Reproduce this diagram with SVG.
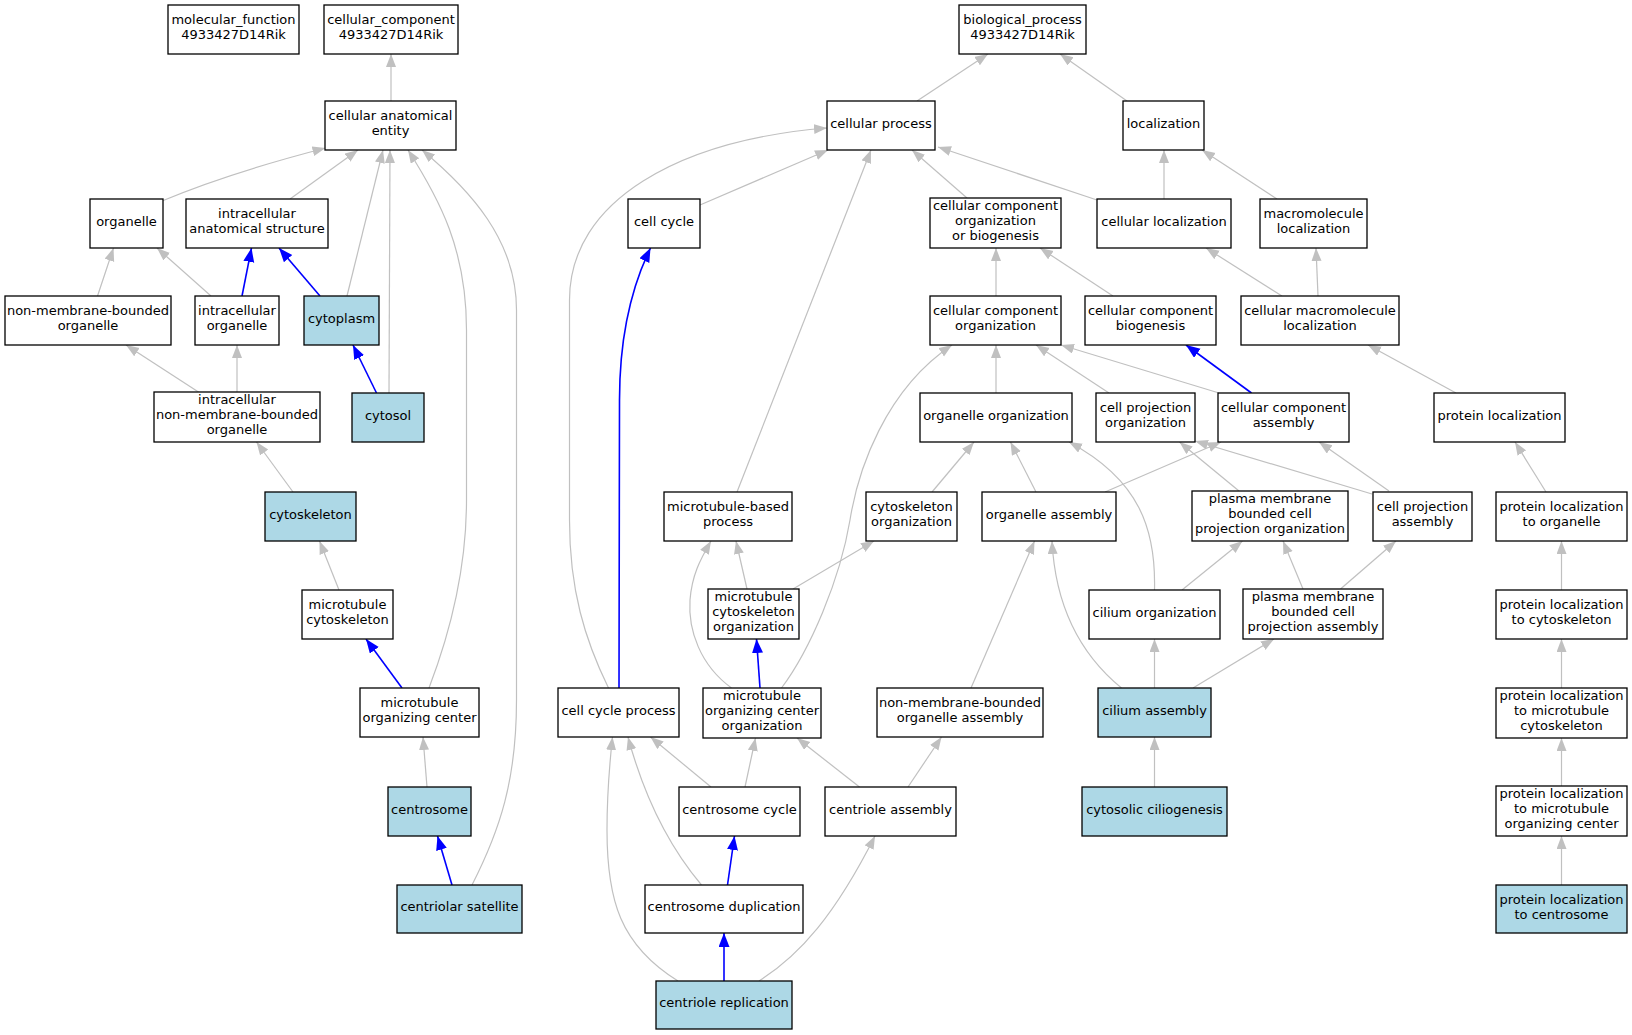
<svg xmlns="http://www.w3.org/2000/svg" width="1632" height="1035" viewBox="0 0 1632 1035">
<style>
.n rect{fill:#fff;stroke:#000;stroke-width:1.3}
.n.h rect{fill:#add8e6}
.n text{font-family:"DejaVu Sans","Liberation Sans",sans-serif;font-size:13px;text-anchor:middle;fill:#000;transform:translate(0px,-1.5px)}
#edges path{fill:none;stroke:#c0c0c0;stroke-width:1.2}
#edges path.b{stroke:#0000ff;stroke-width:1.6}
</style>
<defs>
<marker id="ag" markerUnits="userSpaceOnUse" markerWidth="14" markerHeight="11" viewBox="0 0 14 11" refX="13" refY="5" orient="auto"><path d="M0,0 L13,5 L0,10 z" fill="#c0c0c0"/></marker>
<marker id="ab" markerUnits="userSpaceOnUse" markerWidth="15" markerHeight="12" viewBox="0 0 15 12" refX="14" refY="5.5" orient="auto"><path d="M0,0 L14,5.5 L0,11 z" fill="#0000ff"/></marker>
</defs>
<rect width="1632" height="1035" fill="#fff"/>
<g id="edges">
<g marker-end="url(#ag)">
<path d="M391,101 L391,54"/>
<path d="M162,201 C200,185 260,165 325.5,148"/>
<path d="M290,199 L358,150"/>
<path d="M347,296 L383,150"/>
<path d="M389,393 L390,150"/>
<path d="M429,688 C455,620 466.5,560 466.5,500 L466.5,330 C466.5,250 440,200 408,150"/>
<path d="M472,885 C500,830 516.5,780 516.5,700 L516.5,310 C516.5,240 470,190 422,150"/>
<path d="M97.5,296 L113.5,248"/>
<path d="M211,296 L157,248"/>
<path d="M200,393 L126,345"/>
<path d="M237,393 L237,345"/>
<path d="M293,492 L256.5,442"/>
<path d="M339,590 L319.5,541"/>
<path d="M427,787 L423,737"/>
<path d="M917,101 L988,54"/>
<path d="M1127,101 L1060,54"/>
<path d="M700,205 L828,150"/>
<path d="M737,492 L871,150"/>
<path d="M608.5,688 C585,640 569.5,590 569.5,520 L569.5,300 C569.5,200 680,140 827,128"/>
<path d="M967,198 L912,150"/>
<path d="M1097,200 L938,147"/>
<path d="M1164,199 L1164,150"/>
<path d="M1277,199 L1202,150"/>
<path d="M996,296 L996,248"/>
<path d="M1113,296 L1040,248"/>
<path d="M1282,296 L1206,248"/>
<path d="M1318,296 L1316,248"/>
<path d="M1219,393 L1061,345"/>
<path d="M1109,393 L1036,345"/>
<path d="M996,393 L996,345"/>
<path d="M1456,393 L1368,345"/>
<path d="M781.5,688 C810,650 840,580 850,520 C858,470 885,390 952,345"/>
<path d="M932,492 L974,442"/>
<path d="M1036,492 L1010.5,442"/>
<path d="M1105,492 L1221,442"/>
<path d="M1154.5,590 C1156,530 1140,480 1069,442"/>
<path d="M1239,491 L1179.5,442"/>
<path d="M1372,494 L1195,441"/>
<path d="M1389,491 L1319,442"/>
<path d="M1546,492 L1515,442"/>
<path d="M747,589 L736,541"/>
<path d="M793,589 L874,541"/>
<path d="M1182,590 L1242.5,541"/>
<path d="M1303,589 L1283,541"/>
<path d="M1340.5,589 L1396,541"/>
<path d="M1561.5,590 L1561.5,541"/>
<path d="M731.5,688 C700,665 688,630 690,600 C692,575 700,560 711,541"/>
<path d="M971,688 L1034.5,541"/>
<path d="M1121.5,688 C1075,650 1055,600 1052,541"/>
<path d="M1154.5,688 L1154.5,639"/>
<path d="M1193,688 L1274,639"/>
<path d="M1561.5,688 L1561.5,639"/>
<path d="M711,787 L650.5,737"/>
<path d="M745,787 L755.5,738"/>
<path d="M859.5,787 L797,738"/>
<path d="M908,787 L941.5,737"/>
<path d="M1154.5,787 L1154.5,737"/>
<path d="M1561.5,786 L1561.5,738"/>
<path d="M701.5,885 C672,850 645,800 628,737"/>
<path d="M1561.5,885 L1561.5,836"/>
<path d="M678,981 C620,945 607,900 607,830 C607,790 610,760 612.5,737"/>
<path d="M759,981 C800,955 835,915 875,836"/>
</g>
<g marker-end="url(#ab)">
<path class="b" d="M242,296 L251.5,248"/>
<path class="b" d="M320,296 L279,248"/>
<path class="b" d="M376.5,393 L353,345"/>
<path class="b" d="M402,688 L366,639"/>
<path class="b" d="M452,885 L437.5,836"/>
<path class="b" d="M1251.5,393 L1186,345"/>
<path class="b" d="M760,688 L756.5,639"/>
<path class="b" d="M619,688 L619.5,400 C619.5,340 630,290 650.5,248"/>
<path class="b" d="M727.5,885 L734.5,836"/>
<path class="b" d="M724,981 L724,933"/>
</g>
</g>
<g id="n_mf" class="n"><rect x="168" y="5" width="131" height="49"/><text x="233.5" y="25.5">molecular_function</text><text x="233.5" y="40.5">4933427D14Rik</text></g>
<g id="n_cc" class="n"><rect x="324" y="5" width="134" height="49"/><text x="391" y="25.5">cellular_component</text><text x="391" y="40.5">4933427D14Rik</text></g>
<g id="n_bp" class="n"><rect x="959" y="5" width="127" height="49"/><text x="1022.5" y="25.5">biological_process</text><text x="1022.5" y="40.5">4933427D14Rik</text></g>
<g id="n_cae" class="n"><rect x="325" y="101" width="131" height="49"/><text x="390.5" y="121.5">cellular anatomical</text><text x="390.5" y="136.5">entity</text></g>
<g id="n_cp" class="n"><rect x="827" y="101" width="108" height="49"/><text x="881" y="129">cellular process</text></g>
<g id="n_loc" class="n"><rect x="1123" y="101" width="81" height="49"/><text x="1163.5" y="129">localization</text></g>
<g id="n_org" class="n"><rect x="90" y="199" width="73" height="49"/><text x="126.5" y="227">organelle</text></g>
<g id="n_ias" class="n"><rect x="186" y="199" width="142" height="49"/><text x="257" y="219.5">intracellular</text><text x="257" y="234.5">anatomical structure</text></g>
<g id="n_ccy" class="n"><rect x="628" y="199" width="72" height="49"/><text x="664" y="227">cell cycle</text></g>
<g id="n_ccoob" class="n"><rect x="930" y="198" width="131" height="50"/><text x="995.5" y="211.5">cellular component</text><text x="995.5" y="226.5">organization</text><text x="995.5" y="241.5">or biogenesis</text></g>
<g id="n_cl" class="n"><rect x="1097" y="199" width="134" height="49"/><text x="1164" y="227">cellular localization</text></g>
<g id="n_ml" class="n"><rect x="1260" y="199" width="107" height="49"/><text x="1313.5" y="219.5">macromolecule</text><text x="1313.5" y="234.5">localization</text></g>
<g id="n_nmbo" class="n"><rect x="5" y="296" width="166" height="49"/><text x="88" y="316.5">non-membrane-bounded</text><text x="88" y="331.5">organelle</text></g>
<g id="n_io" class="n"><rect x="195" y="296" width="84" height="49"/><text x="237" y="316.5">intracellular</text><text x="237" y="331.5">organelle</text></g>
<g id="n_cytoplasm" class="n h"><rect x="304" y="296" width="75" height="49"/><text x="341.5" y="324">cytoplasm</text></g>
<g id="n_cco" class="n"><rect x="930" y="296" width="131" height="49"/><text x="995.5" y="316.5">cellular component</text><text x="995.5" y="331.5">organization</text></g>
<g id="n_ccb" class="n"><rect x="1085" y="296" width="131" height="49"/><text x="1150.5" y="316.5">cellular component</text><text x="1150.5" y="331.5">biogenesis</text></g>
<g id="n_cml" class="n"><rect x="1241" y="296" width="158" height="49"/><text x="1320" y="316.5">cellular macromolecule</text><text x="1320" y="331.5">localization</text></g>
<g id="n_inmbo" class="n"><rect x="154" y="392" width="166" height="50"/><text x="237" y="405.5">intracellular</text><text x="237" y="420.5">non-membrane-bounded</text><text x="237" y="435.5">organelle</text></g>
<g id="n_cytosol" class="n h"><rect x="352" y="393" width="72" height="49"/><text x="388" y="421">cytosol</text></g>
<g id="n_oo" class="n"><rect x="920" y="393" width="152" height="49"/><text x="996" y="421">organelle organization</text></g>
<g id="n_cpo" class="n"><rect x="1096" y="393" width="99" height="49"/><text x="1145.5" y="413.5">cell projection</text><text x="1145.5" y="428.5">organization</text></g>
<g id="n_cca" class="n"><rect x="1218" y="393" width="131" height="49"/><text x="1283.5" y="413.5">cellular component</text><text x="1283.5" y="428.5">assembly</text></g>
<g id="n_pl" class="n"><rect x="1434" y="393" width="131" height="49"/><text x="1499.5" y="421">protein localization</text></g>
<g id="n_cytoskeleton" class="n h"><rect x="265" y="492" width="91" height="49"/><text x="310.5" y="520">cytoskeleton</text></g>
<g id="n_mbp" class="n"><rect x="664" y="492" width="128" height="49"/><text x="728" y="512.5">microtubule-based</text><text x="728" y="527.5">process</text></g>
<g id="n_cso" class="n"><rect x="866" y="492" width="91" height="49"/><text x="911.5" y="512.5">cytoskeleton</text><text x="911.5" y="527.5">organization</text></g>
<g id="n_oa" class="n"><rect x="982" y="492" width="134" height="49"/><text x="1049" y="520">organelle assembly</text></g>
<g id="n_pmbcpo" class="n"><rect x="1192" y="491" width="156" height="50"/><text x="1270" y="504.5">plasma membrane</text><text x="1270" y="519.5">bounded cell</text><text x="1270" y="534.5">projection organization</text></g>
<g id="n_cpa" class="n"><rect x="1373" y="492" width="99" height="49"/><text x="1422.5" y="512.5">cell projection</text><text x="1422.5" y="527.5">assembly</text></g>
<g id="n_plo" class="n"><rect x="1496" y="492" width="131" height="49"/><text x="1561.5" y="512.5">protein localization</text><text x="1561.5" y="527.5">to organelle</text></g>
<g id="n_mc" class="n"><rect x="302" y="590" width="91" height="49"/><text x="347.5" y="610.5">microtubule</text><text x="347.5" y="625.5">cytoskeleton</text></g>
<g id="n_mco" class="n"><rect x="708" y="589" width="91" height="50"/><text x="753.5" y="602.5">microtubule</text><text x="753.5" y="617.5">cytoskeleton</text><text x="753.5" y="632.5">organization</text></g>
<g id="n_cio" class="n"><rect x="1089" y="590" width="131" height="49"/><text x="1154.5" y="618">cilium organization</text></g>
<g id="n_pmbcpa" class="n"><rect x="1243" y="589" width="140" height="50"/><text x="1313" y="602.5">plasma membrane</text><text x="1313" y="617.5">bounded cell</text><text x="1313" y="632.5">projection assembly</text></g>
<g id="n_plc" class="n"><rect x="1496" y="590" width="131" height="49"/><text x="1561.5" y="610.5">protein localization</text><text x="1561.5" y="625.5">to cytoskeleton</text></g>
<g id="n_mtoc" class="n"><rect x="360" y="688" width="119" height="49"/><text x="419.5" y="708.5">microtubule</text><text x="419.5" y="723.5">organizing center</text></g>
<g id="n_ccp" class="n"><rect x="558" y="688" width="121" height="49"/><text x="618.5" y="716">cell cycle process</text></g>
<g id="n_mtoco" class="n"><rect x="703" y="688" width="118" height="50"/><text x="762" y="701.5">microtubule</text><text x="762" y="716.5">organizing center</text><text x="762" y="731.5">organization</text></g>
<g id="n_nmboa" class="n"><rect x="877" y="688" width="166" height="49"/><text x="960" y="708.5">non-membrane-bounded</text><text x="960" y="723.5">organelle assembly</text></g>
<g id="n_cia" class="n h"><rect x="1098" y="688" width="113" height="49"/><text x="1154.5" y="716">cilium assembly</text></g>
<g id="n_plmc" class="n"><rect x="1496" y="688" width="131" height="50"/><text x="1561.5" y="701.5">protein localization</text><text x="1561.5" y="716.5">to microtubule</text><text x="1561.5" y="731.5">cytoskeleton</text></g>
<g id="n_centrosome" class="n h"><rect x="388" y="787" width="83" height="49"/><text x="429.5" y="815">centrosome</text></g>
<g id="n_csc" class="n"><rect x="679" y="787" width="121" height="49"/><text x="739.5" y="815">centrosome cycle</text></g>
<g id="n_ca" class="n"><rect x="825" y="787" width="131" height="49"/><text x="890.5" y="815">centriole assembly</text></g>
<g id="n_cyc" class="n h"><rect x="1082" y="787" width="145" height="49"/><text x="1154.5" y="815">cytosolic ciliogenesis</text></g>
<g id="n_plmtoc" class="n"><rect x="1496" y="786" width="131" height="50"/><text x="1561.5" y="799.5">protein localization</text><text x="1561.5" y="814.5">to microtubule</text><text x="1561.5" y="829.5">organizing center</text></g>
<g id="n_cs" class="n h"><rect x="397" y="885" width="125" height="48"/><text x="459.5" y="912.5">centriolar satellite</text></g>
<g id="n_cd" class="n"><rect x="645" y="885" width="158" height="48"/><text x="724" y="912.5">centrosome duplication</text></g>
<g id="n_plcent" class="n h"><rect x="1496" y="885" width="131" height="48"/><text x="1561.5" y="905">protein localization</text><text x="1561.5" y="920">to centrosome</text></g>
<g id="n_cr" class="n h"><rect x="656" y="981" width="136" height="48"/><text x="724" y="1008.5">centriole replication</text></g>
</svg>
